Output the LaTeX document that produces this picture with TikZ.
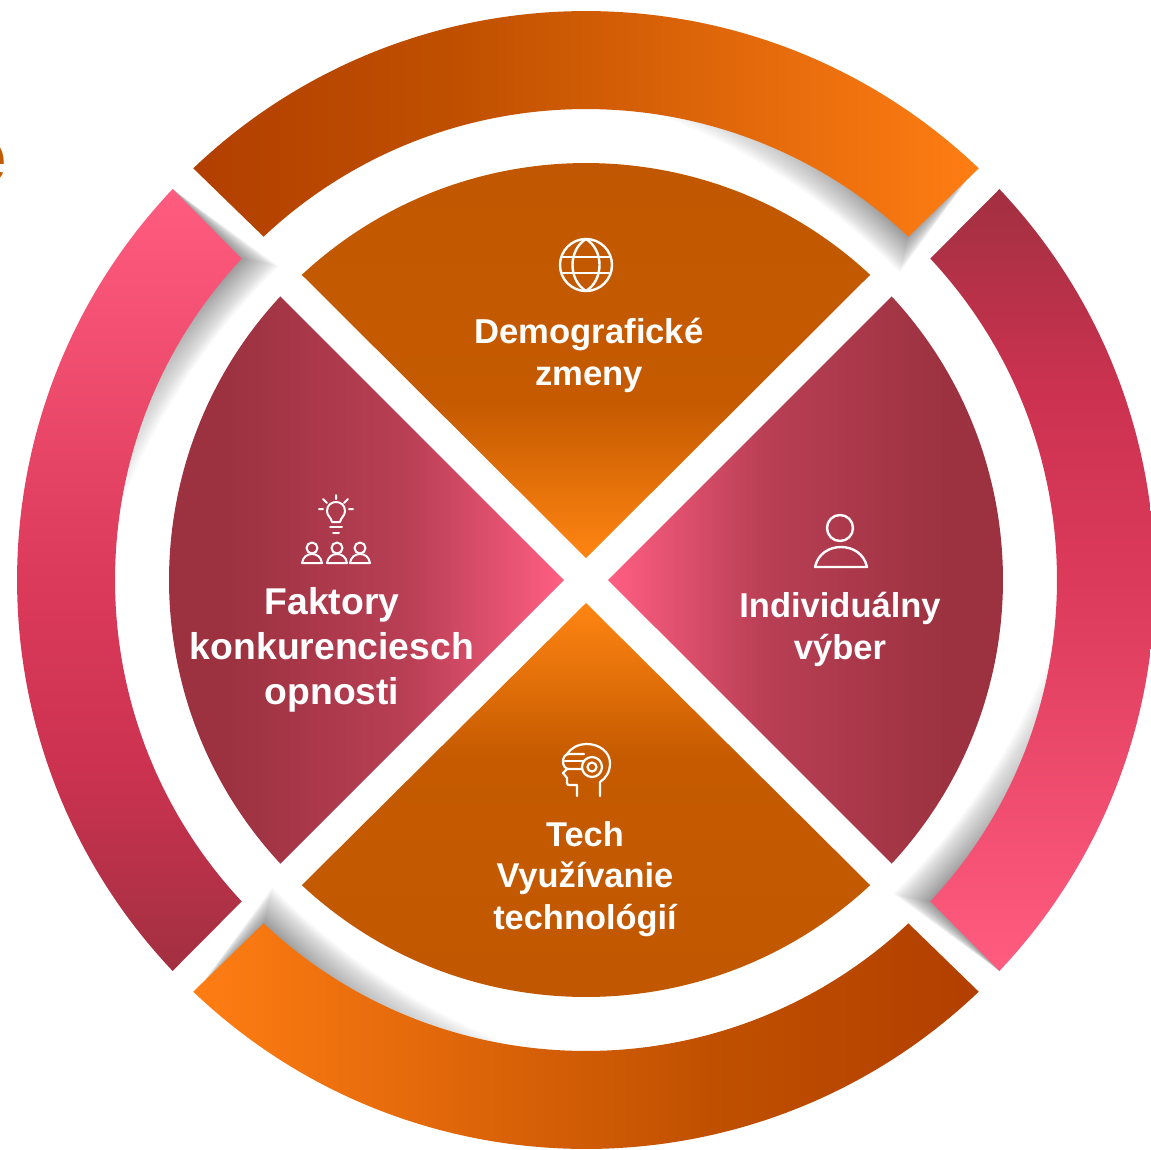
\documentclass[tikz,border=0pt]{standalone}
\usepackage{fontspec}
\setmainfont{Liberation Sans}
\definecolor{oa}{HTML}{B23F00}
\definecolor{ob}{HTML}{C05000}
\definecolor{oc}{HTML}{FF7D13}
\definecolor{wa}{HTML}{C05700}
\definecolor{wb}{HTML}{C55A00}
\definecolor{wc}{HTML}{FF8512}
\definecolor{ra}{HTML}{9C3240}
\definecolor{rb}{HTML}{B93F55}
\definecolor{rc}{HTML}{FF5E82}
\definecolor{ba}{HTML}{A23040}
\definecolor{bb}{HTML}{CC3250}
\definecolor{bc}{HTML}{DC3A5A}
\definecolor{bd}{HTML}{FF5C80}
\pgfdeclarehorizontalshading{bandLR}{100bp}{color(0bp)=(oa); color(25bp)=(oa); color(42bp)=(ob); color(75bp)=(oc); color(100bp)=(oc)}
\pgfdeclarehorizontalshading{bandRL}{100bp}{color(0bp)=(oc); color(25bp)=(oc); color(58bp)=(ob); color(75bp)=(oa); color(100bp)=(oa)}
\pgfdeclareverticalshading{wedgeTop}{100bp}{color(0bp)=(wc); color(25bp)=(wc); color(43bp)=(wb); color(75bp)=(wa); color(100bp)=(wa)}
\pgfdeclareverticalshading{wedgeBot}{100bp}{color(0bp)=(wa); color(25bp)=(wa); color(57bp)=(wb); color(75bp)=(wc); color(100bp)=(wc)}
\pgfdeclarehorizontalshading{wedgeL}{100bp}{color(0bp)=(ra); color(36bp)=(ra); color(57bp)=(rb); color(75bp)=(rc); color(100bp)=(rc)}
\pgfdeclarehorizontalshading{wedgeR}{100bp}{color(0bp)=(rc); color(25bp)=(rc); color(43bp)=(rb); color(64bp)=(ra); color(100bp)=(ra)}
\pgfdeclareverticalshading{bandR}{100bp}{color(0bp)=(bd); color(25bp)=(bd); color(50bp)=(bc); color(62bp)=(bb); color(75bp)=(ba); color(100bp)=(ba)}
\pgfdeclareverticalshading{bandL}{100bp}{color(0bp)=(ba); color(25bp)=(ba); color(38bp)=(bb); color(50bp)=(bc); color(75bp)=(bd); color(100bp)=(bd)}
\tikzset{
  px/.style={x=1pt,y=1pt},
  hub/.style={shift={(586,-580)}},
  icon/.style={draw=white,line width=2.4pt,line cap=round,line join=round},
  lab/.style={text=white,align=center,inner sep=0pt,font=\bfseries},
}
\newcommand{\bandpath}[4]{(#1:569) arc[start angle=#1,end angle=#2,radius=569] -- (#3:471) arc[start angle=#3,end angle=#4,radius=471] -- cycle}
\newcommand{\wedgepath}[3]{(#1:417) arc[start angle=#1,end angle=#2,radius=417] -- #3 -- cycle}
\begin{document}
\begin{tikzpicture}[px]
\useasboundingbox (0,0) rectangle (1151,-1149);
% cut-off letter at the left edge
\node[anchor=base east,inner sep=0pt,text=wb,font=\bfseries\fontsize{80}{80}\selectfont] (cut) at (7,-183) {e};
% soft shadows
\foreach \rot in {0,90,180,270}{
  \begin{scope}[hub,rotate=\rot]
    \foreach \k in {1,...,30}{
      \pgfmathsetmacro\w{\k/30}
      \pgfmathsetmacro\ext{34*(0.08+0.92*\w)}
      \fill[black,opacity=0.015] (136.6:569) -- plot[domain=0:1,samples=14] ({137-2.6*\w*(1-\x)+\ext*\x}:{471-32*\w*(1-\x*\x)}) -- ({137+\ext}:490) -- cycle;
    }
  \end{scope}
}
\begin{scope}[hub]
  % outer bands
  \shade[shading=bandLR] \bandpath{133.65}{46.35}{46.8}{133.2};
  \shade[shading=bandRL] \bandpath{226.35}{313.65}{313.2}{226.8};
  \shade[shading=bandR] \bandpath{43.4}{-43.4}{-43.03}{43.03};
  \shade[shading=bandL] \bandpath{136.6}{223.4}{223.03}{136.97};
  % inner wedges
  \shade[shading=wedgeTop] \wedgepath{132.96}{47.04}{(0,22)};
  \shade[shading=wedgeBot] \wedgepath{227.04}{312.96}{(0,-23)};
  \shade[shading=wedgeL] \wedgepath{137.14}{222.86}{(-22,0)};
  \shade[shading=wedgeR] \wedgepath{42.86}{-42.86}{(22,0)};
\end{scope}
% labels
\node[lab,font=\bfseries\fontsize{34.6}{42}\selectfont] (demo) at (589,-355) {Demografické\\zmeny};
\node[lab,font=\bfseries\fontsize{37.3}{45}\selectfont] (fakt) at (332,-650) {Faktory\\konkurenciesch\\opnosti};
\node[lab,font=\bfseries\fontsize{34.5}{42}\selectfont] (indi) at (840,-629) {Individuálny\\výber};
\node[lab,font=\bfseries\fontsize{34.4}{41.5}\selectfont] (tech) at (585,-879) {Tech\\Využívanie\\technológií};
% icons, in pixel coordinates
\begin{scope}[y=-1pt]
  % globe
  \draw[icon] (586,265) circle[radius=26];
  \draw[icon] (586,239) .. controls (568,250) and (568,280) .. (586,291) .. controls (604,280) and (604,250) .. (586,239);
  \draw[icon] (563,257) -- (609,257) (563,273) -- (609,273);
  % person
  \draw[icon] (840,528) circle[radius=13];
  \draw[icon] (815,567) .. controls (818,553) and (830,547) .. (841,547) .. controls (852,547) and (864,553) .. (867,567) -- cycle;
  % bulb
  \draw[icon,line width=2pt] (332,522) .. controls (331,517) and (327,516) .. (327,511) .. controls (327,499) and (345,499) .. (345,511) .. controls (345,516) and (341,517) .. (340,522) -- cycle;
  \draw[icon,line width=2pt] (330,527) -- (342,527) (333,533) -- (339,533);
  \draw[icon,line width=2pt] (336,495) -- (336,499) (323,499) -- (327,503) (348,499) -- (344,503) (319,509) -- (323,509) (349,509) -- (353,509);
  % three people
  \foreach \px in {312,337,360}{
    \draw[icon,line width=2pt] (\px,548) circle[radius=5.5];
    \draw[icon,line width=2pt] (\px-10,563) .. controls (\px-9,557) and (\px-5,554) .. (\px,554) .. controls (\px+5,554) and (\px+9,557) .. (\px+10,563) -- cycle;
  }
  % head with headset
  \draw[icon,line width=2.2pt] (600,796) -- (600,782) .. controls (606,778) and (610,772) .. (610,763) .. controls (610,752) and (599,744) .. (587,744) .. controls (578,744) and (571,748) .. (567,754);
  \draw[icon,line width=2.2pt] (584,754) -- (569,754) .. controls (561,754) and (561,769) .. (569,769) -- (582,769);
  \draw[icon,line width=2.2pt] (565,761) -- (584,761);
  \draw[icon,line width=2.2pt] (592,767) circle[radius=10];
  \draw[icon,line width=2.2pt] (592,767) circle[radius=4.5];
  \draw[icon,line width=2.2pt] (567,769) -- (563,773) -- (567,778) -- (567,783) .. controls (567,785) and (568,785) .. (570,785) -- (577,785) -- (577,796);
\end{scope}
\end{tikzpicture}
\end{document}
